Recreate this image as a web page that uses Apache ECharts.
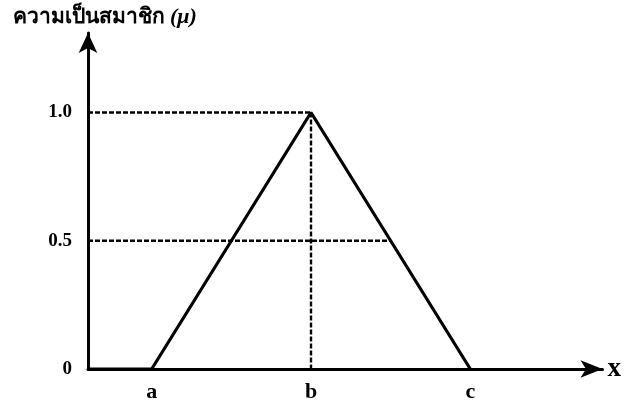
<!DOCTYPE html>
<html><head><meta charset="utf-8">
<script src="https://cdn.jsdelivr.net/npm/echarts@6/dist/echarts.min.js"></script>
<style>html,body{margin:0;padding:0;background:#fff}#c{width:624px;height:403px}</style>
</head><body><div id="c"></div>
<script>
// Triangular membership function parameters
const xTickValues = [1, 2, 3];
const xTickLabels = ['a', 'b', 'c'];
const yTickValues = [0, 0.5, 1];
const yTickLabels = ['0', '0.5', '1.0'];
const xRange = [0.6, 3.83];
const yRange = [0, 1.31];
// triangle membership curve (x, mu)
const curveX = [0.6, 1, 2, 3];
const curveY = [0, 0, 1, 0];
// dashed guides
const guide1X = [0.6, 2]; const guide1Y = [1, 1];
const guide2X = [2, 2];   const guide2Y = [1, 0];
const guide3X = [0.6, 2.5]; const guide3Y = [0.5, 0.5];
const titleMain = 'ความเป็นสมาชิก';
const titleSym = '(μ)';
const xName = 'x';

const zip = (a, b) => a.map((v, i) => [v, b[i]]);
const serif = '"Liberation Serif","DejaVu Serif",serif';
const dashStyle = { color: '#000', width: 2.4, type: [5, 2] };

const chart = echarts.init(document.getElementById('c'));
chart.setOption({
  animation: false,
  backgroundColor: '#fff',
  title: {
    text: '{t|' + titleMain + '} {m|' + titleSym + '}', left: 8, top: 1,
    textStyle: {
      rich: {
        t: { fontSize: 21, fontWeight: 900, color: '#000', fontFamily: '"Noto Sans","DejaVu Sans",sans-serif' },
        m: { fontSize: 22, fontStyle: 'italic', color: '#000', fontFamily: serif }
      }
    }
  },
  grid: { left: 88, top: 33, width: 515, height: 336, containLabel: false },
  xAxis: {
    type: 'value', min: xRange[0], max: xRange[1],
    name: xName, nameLocation: 'end', nameGap: 5,
    nameTextStyle: { fontSize: 27, fontWeight: 'bold', fontFamily: serif, color: '#000', verticalAlign: 'middle' },
    axisLine: { show: true, lineStyle: { color: '#000', width: 3 }, symbol: ['none', 'arrow'], symbolSize: [13, 22] },
    axisTick: { show: false },
    splitLine: { show: false },
    axisLabel: {
      customValues: xTickValues, margin: 12,
      formatter: v => xTickLabels[xTickValues.indexOf(v)] || '',
      fontSize: 22, fontWeight: 'bold', fontFamily: serif, color: '#000'
    }
  },
  yAxis: {
    type: 'value', min: yRange[0], max: yRange[1],
    axisLine: { show: true, lineStyle: { color: '#000', width: 3 }, symbol: ['none', 'arrow'], symbolSize: [14, 20] },
    axisTick: { show: false },
    splitLine: { show: false },
    axisLabel: {
      customValues: yTickValues, margin: 16,
      formatter: v => yTickLabels[yTickValues.indexOf(v)] || '',
      fontSize: 19, fontWeight: 'bold', fontFamily: serif, color: '#000'
    }
  },
  series: [
    { type: 'line', data: zip(guide1X, guide1Y), symbol: 'none', lineStyle: dashStyle, z: 1 },
    { type: 'line', data: zip(guide2X, guide2Y), symbol: 'none', lineStyle: dashStyle, z: 1 },
    { type: 'line', data: zip(guide3X, guide3Y), symbol: 'none', lineStyle: dashStyle, z: 1 },
    { type: 'line', data: zip(curveX, curveY), symbol: 'none', lineStyle: { color: '#000', width: 3.2 }, z: 3 }
  ]
});
</script></body></html>
